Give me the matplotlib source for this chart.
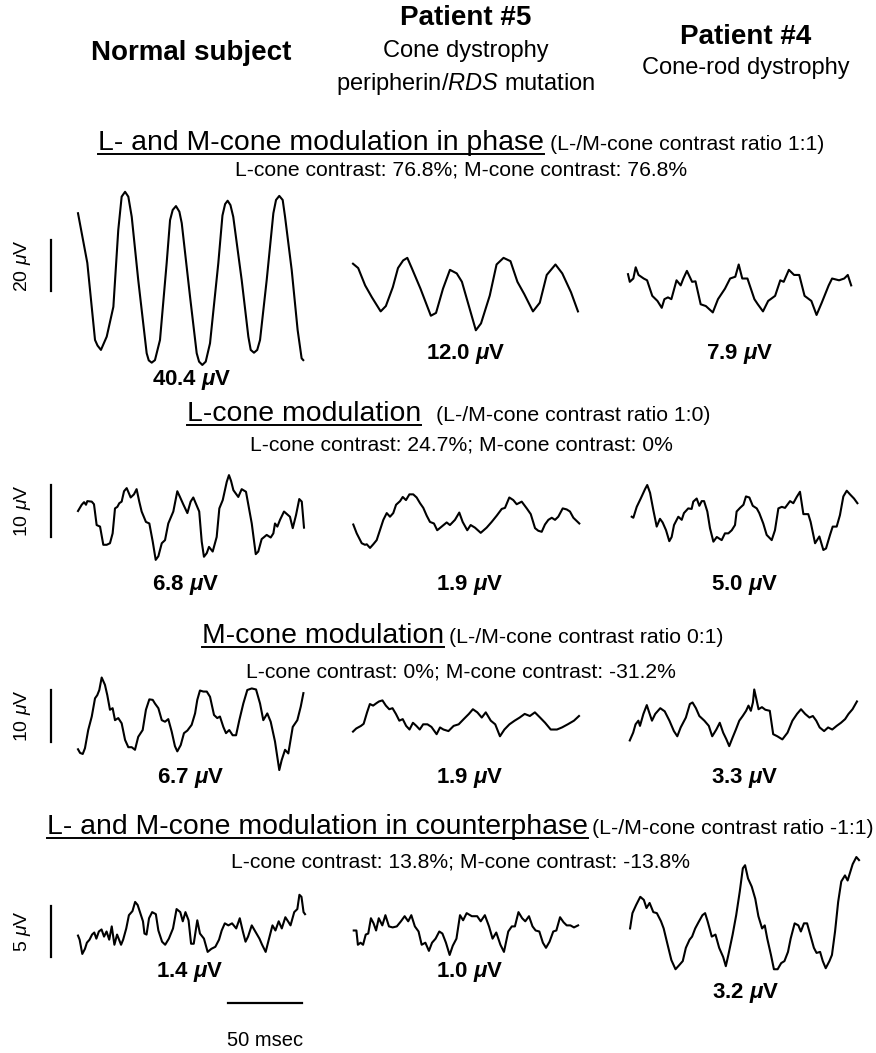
import matplotlib
matplotlib.use('Agg')
import matplotlib.pyplot as plt
from matplotlib.lines import Line2D

plt.rcParams['font.family'] = ['Liberation Sans', 'DejaVu Sans']
plt.rcParams['mathtext.fontset'] = 'custom'
plt.rcParams['mathtext.rm'] = 'Liberation Sans'
plt.rcParams['mathtext.it'] = 'Liberation Sans:italic'
plt.rcParams['mathtext.bf'] = 'Liberation Sans:bold'
plt.rcParams['mathtext.bfit'] = 'Liberation Sans:italic:bold'

# ---- data: ERG traces, time in ms, response in microvolts ----
lm_normal_t = [0, 6.3, 11.5, 13.2, 15.5, 19.4, 23.9, 27.2, 29.5, 31.8, 34.0, 36.3, 40.7, 46.4, 47.8, 49.8, 52.0,
               55.4, 59.9, 62.2, 64.0, 66.2, 68.5, 70.1, 75.7, 80.2, 81.8, 84.0, 86.3, 89.2, 94.8, 97.6, 99.4,
               101.1, 103.0, 104.9, 110.6, 115.1, 116.7, 118.9, 121.1, 123.0, 127.5, 132.0, 133.8, 136.0, 138.3,
               139.9, 144.4, 148.4, 151.1, 152.2]
lm_normal_v = [25.4, 5.9, -24.3, -26.5, -28.2, -23.0, -11.3, 18.8, 31.9, 33.8, 31.9, 24.0, -0.8, -29.5, -32.3,
               -33.2, -32.2, -24.3, 5.8, 22.7, 26.7, 28.2, 26.0, 21.5, -7.3, -29.5, -32.8, -34.1, -32.8, -25.6,
               5.8, 24.5, 29.0, 30.3, 28.6, 24.0, -0.8, -23.0, -28.2, -29.3, -28.2, -24.3, -0.8, 25.4, 30.6, 32.2,
               30.6, 24.0, 3.1, -20.4, -31.5, -32.2]
lm_p5_t = [0, 3.5, 8.2, 12.8, 18.7, 22.2, 26.9, 30.4, 33.9, 36.7, 39.7, 45.6, 52.6, 56.1, 60.8, 65.5, 70.1, 73.6,
           78.3, 83.0, 86.5, 92.4, 97.0, 101.7, 106.4, 111.1, 115.7, 121.6, 126.2, 130.9, 136.8, 141.4, 147.3, 152.0]
lm_p5_v = [5.6, 3.9, -2.9, -7.6, -13.1, -11.0, -3.6, 3.9, 6.9, 7.9, 3.9, -4.2, -14.8, -13.7, -4.2, 3.2, 1.8, -1.5,
           -11.0, -20.5, -17.8, -6.9, 5.3, 7.9, 6.6, -1.5, -6.3, -13.1, -9.7, 1.2, 5.3, 1.8, -5.6, -13.1]
lm_p4_t = [0, 1.2, 3.6, 5.2, 7.1, 10.6, 12.9, 16.4, 19.9, 22.8, 24.6, 27.0, 29.3, 32.8, 35.6, 37.4, 39.8, 43.3, 45.6,
           49.1, 52.6, 57.3, 60.8, 65.5, 69.0, 72.5, 74.8, 77.2, 80.7, 85.4, 87.7, 91.2, 94.7, 99.4, 102.9, 105.2,
           108.7, 112.2, 115.7, 119.3, 123.9, 127.4, 130.9, 135.6, 137.9, 142.6, 146.1, 148.5, 150.8]
lm_p4_v = [1.5, -1.5, -0.2, 4.2, 1.2, -0.2, -0.9, -7.0, -9.0, -11.7, -8.3, -7.6, -8.3, -0.9, -2.9, -0.2, 2.8, -1.5,
           -1.3, -10.3, -11.0, -13.5, -8.3, -4.2, -0.2, 0.5, 5.3, -0.2, -0.2, -8.3, -10.3, -13.1, -9.0, -7.0, -0.9,
           -1.5, 3.2, 1.2, 1.2, -7.0, -9.0, -14.5, -9.7, -2.9, -0.2, -0.9, -0.2, 1.2, -2.9]

l_normal_t = [0, 2.5, 4.1, 5.4, 6.3, 9.3, 10.8, 12.6, 14.9, 17.1, 19.4, 21.6, 23.4, 25.0, 26.6, 27.9, 29.5, 31.1,
              32.9, 35.6, 37.8, 39.6, 41.4, 43.0, 45.9, 48.2, 50.5, 52.5, 54.3, 56.6, 58.8, 61.0, 64.4, 67.1, 68.9,
              71.1, 73.9, 76.1, 77.9, 81.9, 83.6, 85.1, 87.0, 88.5, 91.0, 93.7, 95.5, 97.8, 100.5, 102.0, 103.4,
              105.0, 108.3, 110.6, 113.5, 115.1, 117.4, 120.1, 121.8, 124.1, 127.5, 130.2, 132.0, 133.1, 134.7,
              136.5, 139.2, 143.2, 145.1, 147.3, 149.5, 151.2, 152.7]
l_normal_v = [0, 1.2, 1.7, 1.2, 1.9, 1.8, 1.3, -2.7, -3.0, -6.5, -6.5, -6.2, -4.3, 0.5, 0.8, 1.5, 1.8, 3.8, 4.4, 2.6,
              3.2, 4.2, 1.8, -0.1, -2.1, -2.4, -5.9, -9.4, -8.7, -6.2, -5.6, -2.4, -0.1, 3.8, 2.7, 1.3, -0.4, 1.8,
              2.6, -0.1, -5.9, -8.8, -8.1, -6.9, -7.8, -5.0, 0.5, 2.1, 5.6, 6.9, 5.8, 4.0, 2.7, 4.2, 3.7, 1.2, -2.4,
              -8.3, -7.8, -5.4, -4.6, -5.1, -4.3, -2.4, -3.0, -1.7, -0.1, -1.1, -3.3, -0.8, 2.3, 1.8, -3.2]
l_p5_t = [0.2, 2.5, 5.9, 8.1, 9.3, 11.5, 13.7, 16.0, 18.2, 20.5, 22.8, 25.0, 27.2, 29.1, 31.8, 33.6, 35.8, 38.1,
          40.7, 43.0, 45.3, 47.5, 49.8, 52.0, 54.7, 56.9, 59.9, 63.3, 65.5, 68.9, 71.8, 74.1, 77.2, 79.5, 82.4, 86.3,
          90.3, 93.7, 97.1, 100.5, 102.7, 105.6, 108.3, 110.6, 114.0, 117.4, 120.1, 123.0, 125.2, 127.5, 129.7,
          132.0, 134.3, 136.5, 138.7, 141.7, 144.4, 146.6, 148.9, 152.9]
l_p5_v = [-2.6, -4.3, -6.2, -6.5, -6.4, -7.1, -6.4, -5.6, -3.7, -1.7, -0.4, -1.1, -0.4, 1.2, 1.9, 2.7, 2.1, 3.2, 3.2,
          2.6, 1.5, 0.6, -0.9, -2.1, -2.4, -3.7, -3.0, -2.2, -2.7, -1.7, -0.3, -2.1, -3.7, -2.7, -3.2, -4.2, -3.2,
          -2.1, -0.9, 0.4, 0.6, 2.6, 2.1, 1.3, 1.8, 0.5, -0.6, -3.3, -3.8, -4.0, -2.6, -1.7, -1.3, -1.7, -1.1, 0.5,
          0.3, -0.1, -1.3, -2.4]
l_p4_t = [2.5, 3.6, 5.9, 8.6, 11.5, 13.0, 14.9, 17.1, 19.4, 21.6, 23.4, 25.7, 27.9, 29.5, 31.1, 34.0, 36.3, 37.8,
          40.7, 43.0, 44.1, 46.4, 48.2, 49.8, 51.4, 53.6, 55.4, 57.7, 60.0, 63.3, 65.5, 67.8, 70.1, 72.3, 73.4, 75.7,
          78.0, 79.7, 82.0, 84.3, 87.0, 88.7, 91.4, 93.7, 97.1, 99.3, 101.6, 103.9, 106.1, 109.5, 111.7, 114.0,
          116.2, 118.5, 121.8, 123.4, 126.4, 129.3, 132.0, 133.8, 136.5, 138.3, 141.0, 143.2, 145.5, 147.8, 150.0,
          152.7, 155.0]
l_p4_v = [-1.1, -1.3, 0.8, 2.4, 4.2, 5.0, 3.5, 0.2, -3.0, -1.5, -2.2, -3.7, -5.8, -5.0, -2.7, -1.1, -1.7, -0.4, 0.5,
          0.4, 1.8, 2.4, 1.0, 1.9, 1.9, -0.1, -3.3, -5.9, -5.0, -5.6, -4.3, -4.3, -3.7, -2.7, -0.1, 0.6, 1.2, 2.8,
          2.6, 1.0, 0.5, -0.4, -2.4, -4.6, -5.6, -3.7, 0.5, 0.8, 0.6, 1.9, 1.5, 2.7, 3.7, -0.6, -0.6, -2.1, -6.2,
          -4.9, -7.5, -7.2, -4.6, -3.0, -3.0, -0.8, 2.8, 3.9, 3.2, 2.4, 1.5]

m_normal_t = [0, 1.4, 3.2, 4.7, 6.9, 9.3, 11.5, 13.0, 14.4, 16.0, 18.2, 19.8, 21.6, 23.4, 25.0, 27.2, 29.5, 31.8,
              34.0, 36.3, 38.5, 40.7, 43.7, 45.9, 48.2, 50.5, 52.0, 54.3, 56.6, 58.8, 61.0, 63.3, 65.5, 67.1, 69.4,
              71.6, 73.9, 76.8, 79.1, 80.6, 82.4, 84.7, 87.0, 89.2, 91.9, 94.1, 95.9, 98.2, 100.0, 102.2, 104.5,
              106.8, 109.0, 111.7, 114.4, 117.4, 120.3, 123.0, 125.2, 127.9, 130.2, 133.1, 136.0, 137.6, 139.9,
              142.1, 145.1, 148.2, 150.5, 152.3]
m_normal_v = [-6.4, -7.1, -7.3, -6.2, -2.7, -0.1, 3.4, 4.0, 5.0, 7.4, 6.0, 4.0, 1.2, 1.5, -0.8, -0.4, -1.4, -4.6,
              -6.0, -6.0, -6.5, -4.0, -2.7, 1.2, 3.2, 3.1, 2.4, 1.5, -0.8, -1.1, -0.6, -3.0, -5.8, -6.8, -5.6, -3.3,
              -2.8, -1.7, 0.5, 3.1, 4.9, 4.7, 4.7, 3.7, 0.2, -0.4, -0.1, -2.1, -3.3, -2.7, -3.7, -3.7, -0.8, 2.4,
              5.0, 5.3, 5.1, 2.4, -0.8, 0.5, -1.1, -4.9, -10.4, -8.5, -6.5, -7.2, -2.1, -0.8, 1.8, 4.4]
m_p5_t = [0, 2.2, 5.4, 7.2, 9.5, 11.4, 13.6, 16.0, 17.6, 19.9, 22.2, 24.5, 26.7, 29.0, 31.3, 33.6, 35.9, 38.2, 40.5,
          42.8, 45.1, 47.4, 50.3, 53.0, 56.5, 58.8, 61.1, 64.5, 68.0, 71.4, 74.8, 78.3, 81.0, 84.0, 87.0, 89.7, 93.1,
          96.1, 99.3, 102.3, 105.7, 109.2, 112.6, 116.0, 119.5, 122.9, 126.4, 129.8, 133.6, 137.8, 141.2, 145.1,
          149.3, 152.7]
m_p5_v = [-3.0, -2.4, -1.9, -1.5, 0.7, 2.3, 2.0, 2.5, 2.8, 3.0, 2.0, 1.3, 1.5, 0.4, -0.9, -0.6, -1.9, -2.6, -1.3,
          -1.9, -2.6, -1.6, -1.6, -2.1, -3.5, -2.2, -2.6, -2.9, -1.9, -1.6, -0.6, 0.4, 1.3, 0.7, -0.3, 0.7, -0.9,
          -1.6, -3.9, -2.6, -1.6, -0.9, -0.3, 0.4, 0.0, 0.7, -0.3, -1.3, -2.6, -2.6, -2.2, -1.6, -0.9, 0.0]
m_p4_t = [1.2, 3.5, 5.1, 7.0, 8.1, 10.4, 12.7, 14.3, 16.2, 18.4, 21.8, 24.8, 28.0, 31.0, 33.3, 35.6, 39.1, 41.8,
          43.6, 45.9, 48.2, 51.6, 54.6, 56.9, 59.7, 62.0, 64.3, 66.5, 68.4, 70.6, 72.9, 75.2, 77.5, 79.8, 81.4, 83.0,
          84.4, 85.3, 86.7, 88.2, 90.5, 92.8, 95.8, 98.1, 100.9, 104.3, 107.8, 111.1, 114.2, 116.9, 119.7, 122.6,
          124.9, 127.2, 129.5, 132.5, 135.2, 138.0, 141.0, 143.9, 146.7, 149.0, 151.7, 154.7]
m_p4_v = [-4.7, -3.2, -1.6, -0.9, -1.9, 0.4, 2.1, 0.7, -0.9, 0.4, 1.5, 0.9, -0.9, -2.9, -3.9, -2.2, -0.3, 2.3, 2.6,
          1.5, 0.0, -0.9, -1.9, -3.9, -2.6, -1.3, -3.2, -4.5, -5.8, -4.2, -2.6, -0.9, 0.0, 1.0, 2.0, 1.0, 2.6, 5.1,
          3.3, 1.3, 1.7, 1.2, 1.0, -3.5, -3.9, -4.5, -3.2, -0.9, 0.4, 1.3, 0.4, -0.3, 0.0, -0.9, -2.2, -2.9, -2.2,
          -2.6, -1.9, -1.3, -0.6, 0.4, 1.3, 2.8]

cp_normal_t = [0, 1.1, 2.9, 4.7, 6.0, 7.8, 9.5, 11.0, 12.4, 14.1, 15.9, 17.6, 19.3, 21.1, 22.8, 24.6, 26.4, 29.1,
               30.5, 32.6, 34.4, 36.8, 38.6, 40.3, 42.1, 43.9, 44.9, 46.3, 48.0, 50.1, 52.6, 54.3, 56.8, 58.9, 61.4,
               64.2, 66.6, 69.1, 70.8, 72.6, 74.7, 76.4, 78.2, 80.6, 82.4, 85.1, 87.6, 90.1, 92.8, 95.3, 97.1, 99.2,
               101.6, 104.1, 106.9, 109.3, 111.4, 113.2, 114.9, 117.4, 119.8, 122.6, 124.4, 126.8, 128.9, 131.4,
               133.4, 135.6, 137.7, 140.1, 141.9, 143.6, 146.1, 148.2, 149.6, 151.0, 152.4, 153.4]
cp_normal_v = [-0.4, -0.8, -2.2, -1.7, -1.1, -0.8, -0.3, -0.1, -0.7, 0.0, 0.2, -0.5, 0.0, -0.8, 0.5, -1.3, -0.3,
               -1.3, -0.8, 0.3, 1.6, 2.0, 2.9, 2.6, 1.8, 1.0, -0.2, -0.3, 1.3, 1.9, 1.7, 0.1, -1.0, -1.3, -0.7, 0.3,
               2.2, 1.9, 1.0, 1.9, 1.1, -1.2, -1.2, 1.1, -0.2, -0.7, -2.0, -1.7, -1.5, -0.8, 0.1, 0.8, 0.6, 0.8, 0.3,
               1.3, 0.0, -1.0, -0.5, 0.6, 0.0, -0.7, -1.3, -2.0, -0.8, 0.6, 0.1, 1.0, 0.3, 1.4, 1.0, 0.6, 1.9, 2.2,
               3.6, 3.4, 1.9, 1.7]
cp_p5_t = [0.5, 2.3, 3.3, 5.1, 6.8, 8.6, 10.3, 12.1, 13.9, 15.6, 17.4, 19.8, 21.9, 24.3, 26.8, 29.6, 32.4, 34.9,
           37.3, 39.4, 41.8, 44.3, 46.4, 48.9, 51.3, 53.4, 55.8, 58.3, 60.4, 62.8, 65.3, 67.4, 69.9, 72.3, 74.4,
           76.8, 80.3, 83.9, 86.3, 89.1, 91.9, 94.3, 96.8, 99.6, 102.0, 104.9, 107.3, 109.4, 111.8, 114.3, 116.4,
           118.9, 121.3, 123.4, 125.9, 128.3, 130.4, 132.8, 135.3, 137.4, 139.9, 142.3, 144.4, 146.9, 149.3, 152.1]
cp_p5_v = [0.1, 0.1, -1.3, -1.1, -1.3, -0.3, -0.2, 1.3, 0.8, 0.1, 1.3, 0.6, 1.6, 0.5, 0.4, 0.5, 1.0, 1.5, 1.0, 1.6,
           0.5, 0.0, -1.3, -1.1, -1.9, -1.1, -0.7, 0.0, -0.2, -1.1, -2.3, -1.4, -0.7, 1.6, 1.1, 1.8, 1.5, 1.5, 1.0,
           1.6, 0.5, -0.7, -0.1, -1.3, -2.0, 0.0, 0.5, 0.5, 1.9, 1.3, 1.0, 1.5, 0.5, 0.1, 0.0, -1.1, -1.6, -1.0,
           0.0, 0.1, 1.4, 0.9, 0.6, 0.6, 0.4, 0.6]
cp_p4_t = [1.4, 3.0, 5.5, 8.3, 10.7, 12.5, 14.6, 17.1, 19.5, 22.3, 24.1, 26.6, 29.3, 32.1, 34.6, 37.0, 39.1, 41.6,
           43.3, 45.4, 47.6, 50.3, 52.1, 53.8, 56.6, 59.1, 61.6, 64.3, 66.1, 67.8, 70.7, 73.1, 75.5, 77.6, 79.1,
           81.1, 83.6, 86.0, 88.1, 90.6, 92.4, 94.1, 96.6, 98.6, 101.1, 103.5, 105.7, 108.1, 109.9, 112.6, 115.1,
           116.8, 118.9, 121.0, 123.1, 125.6, 127.4, 129.8, 131.6, 133.6, 136.1, 137.8, 139.9, 142.0, 144.1, 146.6,
           148.4, 150.1, 151.8, 154.3, 156.1]
cp_p4_v = [0.3, 1.8, 2.6, 3.4, 3.1, 2.3, 2.8, 1.9, 1.8, 1.0, 0.3, -1.2, -2.8, -3.7, -3.3, -2.9, -1.6, -0.8, -0.5,
           0.3, 0.9, 1.6, 1.8, 1.0, -0.5, -0.3, -1.6, -2.5, -3.4, -2.3, -0.3, 1.6, 3.9, 6.2, 6.5, 5.2, 4.4, 3.2,
           1.5, 0.3, 0.6, -0.7, -2.3, -3.7, -3.7, -3.1, -2.9, -2.0, -0.7, 0.8, 0.6, 0.0, 0.8, 0.8, -0.3, -1.6, -2.1,
           -2.0, -2.9, -3.6, -2.9, -2.3, 0.0, 2.9, 4.9, 5.5, 5.0, 5.8, 6.6, 7.3, 7.0]

amplitudes = [[40.4, 12.0, 7.9], [6.8, 1.9, 5.0], [6.7, 1.9, 3.3], [1.4, 1.0, 3.2]]
scale_bar_uv = [20, 10, 10, 5]
time_bar_ms = 50

titles = ['L- and M-cone modulation in phase', 'L-cone modulation', 'M-cone modulation',
          'L- and M-cone modulation in counterphase']
ratios = ['(L-/M-cone contrast ratio 1:1)', '(L-/M-cone contrast ratio 1:0)', '(L-/M-cone contrast ratio 0:1)',
          '(L-/M-cone contrast ratio -1:1)']
contrasts = ['L-cone contrast: 76.8%; M-cone contrast: 76.8%', 'L-cone contrast: 24.7%; M-cone contrast: 0%',
             'L-cone contrast: 0%; M-cone contrast: -31.2%', 'L-cone contrast: 13.8%; M-cone contrast: -13.8%']

traces = [
    [(lm_normal_t, lm_normal_v), (lm_p5_t, lm_p5_v), (lm_p4_t, lm_p4_v)],
    [(l_normal_t, l_normal_v), (l_p5_t, l_p5_v), (l_p4_t, l_p4_v)],
    [(m_normal_t, m_normal_v), (m_p5_t, m_p5_v), (m_p4_t, m_p4_v)],
    [(cp_normal_t, cp_normal_v), (cp_p5_t, cp_p5_v), (cp_p4_t, cp_p4_v)],
]

# ---- layout (pixels of the 876x1053 image) ----
W, H = 876, 1053
PX_PER_MS = 1.48
T_SPAN = 158
TRACE_X = [78, 353, 628]
ROW_Y = [278, 511, 716, 931.5]        # baseline of each row
ROW_SCALE = [2.55, 5.2, 5.2, 10.2]    # px per microvolt
ROW_H = [220, 140, 140, 180]
BAR_CENTER = [5, 0, 0, 0]
TITLE_X = [98, 187, 202, 47]
TITLE_SIZE = [20.4, 20.4, 20.4, 20.4]
RATIO_GAP = [6, 15, 5, 4]
TITLE_BASE = [150, 421, 643, 834]
CONTRAST_Y = [170, 445, 672, 862]
LABEL_POS = [[(192, 380), (466, 354), (740, 354)],
             [(186, 585), (470, 585), (745, 585)],
             [(191, 778), (470, 778), (745, 778)],
             [(190, 972), (470, 972), (746, 993)]]


def fx(x):
    return x / W


def fy(y):
    return 1 - y / H


fig = plt.figure(figsize=(W / 100, H / 100), dpi=100)

# column headers
fig.text(fx(191), fy(53), 'Normal subject', fontsize=20, fontweight='bold', ha='center', va='center')
fig.text(fx(466), fy(18), 'Patient #5', fontsize=20, fontweight='bold', ha='center', va='center')
fig.text(fx(466), fy(51), 'Cone dystrophy', fontsize=17, ha='center', va='center')
fig.text(fx(466), fy(84), r'peripherin/$\mathit{RDS}$ mutation', fontsize=17, ha='center', va='center')
fig.text(fx(746), fy(37), 'Patient #4', fontsize=20, fontweight='bold', ha='center', va='center')
fig.text(fx(746), fy(68), 'Cone-rod dystrophy', fontsize=17, ha='center', va='center')

title_texts = []
for r in range(4):
    t = fig.text(fx(TITLE_X[r]), fy(TITLE_BASE[r]), titles[r], fontsize=TITLE_SIZE[r], ha='left', va='baseline')
    title_texts.append(t)
    fig.text(fx(461), fy(CONTRAST_Y[r]), contrasts[r], fontsize=15.2, ha='center', va='center')

    yb, s, h = ROW_Y[r], ROW_SCALE[r], ROW_H[r]
    for c in range(3):
        ax = fig.add_axes([fx(TRACE_X[c]), (H - yb - h / 2) / H, T_SPAN * PX_PER_MS / W, h / H])
        ax.set_xlim(0, T_SPAN)
        ax.set_ylim(-h / 2 / s, h / 2 / s)
        ax.set_axis_off()
        t_ms, v_uv = traces[r][c]
        ax.plot(t_ms, v_uv, color='black', lw=1.5, clip_on=False, solid_joinstyle='round')
        lx, ly = LABEL_POS[r][c]
        fig.text(fx(lx), fy(ly), '{:.1f} '.format(amplitudes[r][c]) + r'$\mathbfit{\mu}$V',
                 fontsize=16, fontweight='bold', ha='center', va='center')
        if c == 0:
            bt = (51 - TRACE_X[0]) / PX_PER_MS
            half = scale_bar_uv[r] / 2
            ax.plot([bt, bt], [BAR_CENTER[r] - half, BAR_CENTER[r] + half], color='black', lw=1.6,
                    clip_on=False)
            ax.text((22 - TRACE_X[0]) / PX_PER_MS, BAR_CENTER[r], '{} '.format(scale_bar_uv[r]) + r'$\mu$V',
                    rotation=90, fontsize=14, ha='center', va='center')
            if r == 3:
                t0 = (228 - TRACE_X[0]) / PX_PER_MS
                ybar = (yb - 1003) / s
                ax.plot([t0, t0 + time_bar_ms], [ybar, ybar], color='black', lw=1.6, clip_on=False)
                ax.text(t0 + time_bar_ms / 2, (yb - 1040) / s, '{} msec'.format(time_bar_ms),
                        fontsize=14.5, ha='center', va='center')

# underline the row titles and put the contrast ratio right after each
fig.canvas.draw()
inv = fig.transFigure.inverted()
for r, t in enumerate(title_texts):
    bb = t.get_window_extent()
    x0 = inv.transform((bb.x0, 0))[0]
    x1 = inv.transform((bb.x1, 0))[0]
    yl = fy(TITLE_BASE[r] + 4)
    fig.add_artist(Line2D([x0, x1], [yl, yl], color='black', lw=1.4, transform=fig.transFigure))
    fig.text(x1 + fx(RATIO_GAP[r]), fy(TITLE_BASE[r]), ratios[r], fontsize=15.3, ha='left', va='baseline')

fig.savefig('out.png', dpi=100)
